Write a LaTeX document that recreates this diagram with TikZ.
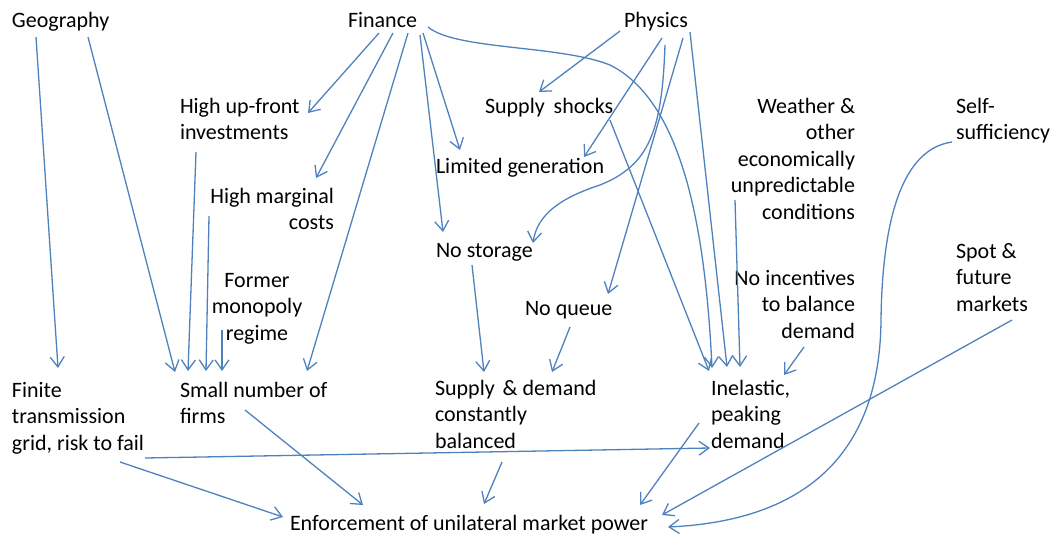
\documentclass[tikz,border=0pt]{standalone}
\usepackage{fontspec}
\setmainfont{Carlito}
\usetikzlibrary{arrows.meta}
\definecolor{lnblue}{HTML}{4F81BD}
\newcommand{\mlines}[2]{\begin{tabular}[t]{@{}#1@{}}#2\end{tabular}}
\begin{document}
\begin{tikzpicture}[x=1pt,y=-1pt,
  lbl/.style={inner sep=0pt,outer sep=0pt,font=\fontsize{22}{26.5}\selectfont,text=black},
  arr/.style={draw=lnblue,line width=1.3pt,-{Straight Barb[length=10pt,width=14pt]}}]
\useasboundingbox (0,0) rectangle (1056,535);
% nodes
\node[lbl,anchor=base west] (geo) at (12,28) {Geography};
\node[lbl,anchor=base west] (fin) at (348,28) {Finance};
\node[lbl,anchor=base west] (phy) at (624,28) {Physics};
\node[lbl,anchor=base west] (hup) at (180,113) {\mlines{l}{High up-front\\investments}};
\node[lbl,anchor=base east] (hmc) at (334,203) {\mlines{r}{High marginal\\costs}};
\node[lbl,anchor=base] (fmr) at (257,287) {\mlines{c}{Former\\monopoly\\regime}};
\node[lbl,anchor=base west] (ssh) at (485,113) {Supply\hspace{4pt} shocks};
\node[lbl,anchor=base west] (lim) at (436,173) {Limited generation};
\node[lbl,anchor=base west] (nst) at (436,257) {No storage};
\node[lbl,anchor=base west] (nq) at (525,315) {No queue};
\node[lbl,anchor=base east] (wea) at (855,113) {\mlines{r}{Weather \&\\other\\economically\\unpredictable\\conditions}};
\node[lbl,anchor=base west] (self) at (956,113) {\mlines{l}{Self-\\sufficiency}};
\node[lbl,anchor=base west] (spot) at (956,258) {\mlines{l}{Spot \&\\future\\markets}};
\node[lbl,anchor=base east] (noi) at (855,285) {\mlines{r}{No incentives\\to balance\\demand}};
\node[lbl,anchor=base west] (fini) at (12,397) {\mlines{l}{Finite\\transmission\\grid, risk to fail}};
\node[lbl,anchor=base west] (small) at (180,397) {\mlines{l}{Small number of\\firms}};
\node[lbl,anchor=base west] (sd) at (435,395) {\mlines{l}{Supply\hspace{3pt} \& demand\\constantly\\balanced}};
\node[lbl,anchor=base west] (inel) at (711,395) {\mlines{l}{Inelastic,\\peaking\\demand}};
\node[lbl,anchor=base west] (enf) at (290,530) {Enforcement of unilateral market power};
% connectors
\draw[arr] ([shift={(24,9)}]geo.base west) -- ([shift={(46,-29)}]fini.base west);
\draw[arr] ([shift={(76,9)}]geo.base west) -- ([shift={(-5,-25)}]small.base west);
\draw[arr] ([shift={(31,5)}]fin.base west) -- ([shift={(128,0)}]hup.base west);
\draw[arr] ([shift={(45,5)}]fin.base west) -- ([shift={(-18,-25)}]hmc.base east);
\draw[arr] ([shift={(60,5)}]fin.base west) -- ([shift={(127,-26)}]small.base west);
\draw[arr] ([shift={(75,5)}]fin.base west) -- ([shift={(24,-23)}]lim.base west);
\draw[arr] ([shift={(72,7)}]fin.base west) -- ([shift={(7,-25)}]nst.base west);
\draw[arr] ([shift={(80,-1)}]fin.base west) .. controls (455,50) and (560,45) .. (610,65)
  .. controls (680,100) and (705,220) .. ([shift={(1,-27)}]inel.base west);
\draw[arr] ([shift={(125,7)}]ssh.base west) -- ([shift={(-2,-24)}]inel.base west);
\draw[arr] ([shift={(-120,87)}]wea.base east) -- ([shift={(29,-28)}]inel.base west);
\draw[arr] ([shift={(66,4)}]phy.base west) -- ([shift={(16,-28)}]inel.base west);
\draw[arr] ([shift={(-4,3)}]phy.base west) -- ([shift={(54,-21)}]ssh.base west);
\draw[arr] ([shift={(38,10)}]phy.base west) -- ([shift={(148,-16)}]lim.base west);
\draw[arr] ([shift={(41,17)}]phy.base west) .. controls (662,130) and (650,165) .. (600,185)
  .. controls (560,198) and (537,215) .. ([shift={(97,-14)}]nst.base west);
\draw[arr] ([shift={(59,10)}]phy.base west) -- ([shift={(83,-21)}]nq.base west);
\draw[arr] ([shift={(16,39)}]hup.base west) -- ([shift={(8,-26)}]small.base west);
\draw[arr] ([shift={(-125,13)}]hmc.base east) -- ([shift={(26,-26)}]small.base west);
\draw[arr] ([shift={(-35,43)}]fmr.base) -- ([shift={(42,-26)}]small.base west);
\draw[arr] ([shift={(65,13)}]small.base west) -- ([shift={(73,-25)}]enf.base west);
\draw[arr] ([shift={(108,65)}]fini.base west) -- ([shift={(-7,-13)}]enf.base west);
\draw[arr] ([shift={(133,61)}]fini.base west) -- ([shift={(-1,53)}]inel.base west);
\draw[arr] ([shift={(36,8)}]nst.base west) -- ([shift={(49,-23)}]sd.base west);
\draw[arr] ([shift={(45,12)}]nq.base west) -- ([shift={(117,-23)}]sd.base west);
\draw[arr] ([shift={(67,67)}]sd.base west) -- ([shift={(194,-26)}]enf.base west);
\draw[arr] ([shift={(-12,28)}]inel.base west) -- ([shift={(350,-25)}]enf.base west);
\draw[arr] ([shift={(56,62)}]spot.base west) -- ([shift={(372,-15)}]enf.base west);
\draw[arr] ([shift={(-4,29)}]self.base west) .. controls (895,150) and (882,240) .. (881,320)
  .. controls (880,440) and (820,520) .. ([shift={(378,-3)}]enf.base west);
\draw[arr] ([shift={(-51,62)}]noi.base east) -- ([shift={(73,-20)}]inel.base west);
\end{tikzpicture}
\end{document}
